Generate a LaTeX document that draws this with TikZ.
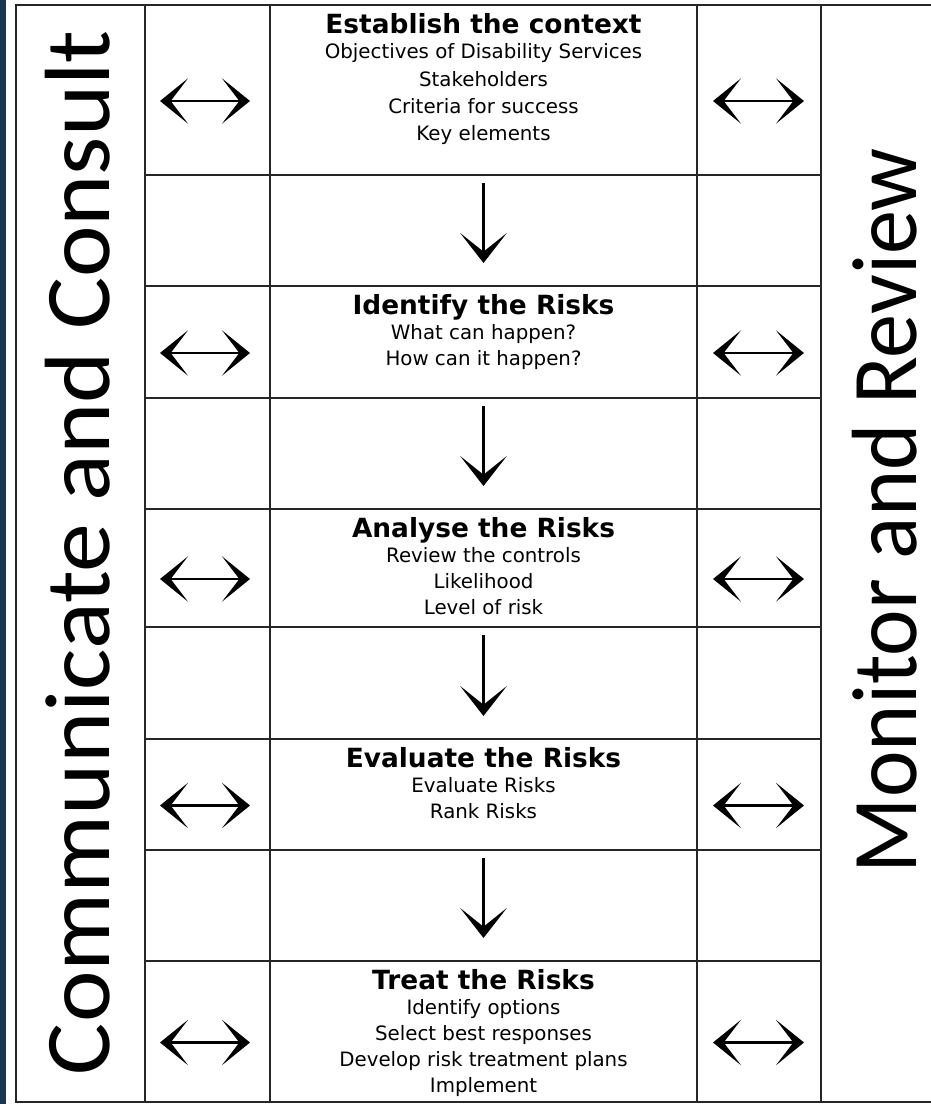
\documentclass[tikz,border=0pt]{standalone}
\usepackage{fontspec}
\setmainfont{DejaVu Sans}
\newfontfamily\bandfont{Carlito}
\usetikzlibrary{arrows.meta,calc}

\definecolor{edgeblue}{RGB}{27,54,82}

\tikzset{every picture/.style={line width=0.75pt}}
\tikzset{
  cell/.style={draw=black!85, line width=1.1, inner sep=0pt, outer sep=0pt},
  gridline/.style={draw=black!85, line width=1.1},
  stagehead/.style={inner sep=0pt, font=\bfseries\fontsize{19.8}{24}\selectfont},
  stagebody/.style={inner sep=0pt, align=center, font=\fontsize{14.85}{19.5}\selectfont},
  sidelabel/.style={inner sep=0pt, rotate=90, font=\bandfont\fontsize{69.5}{75}\selectfont},
  twoway/.style={line width=2.2, {Stealth[length=21pt,width=34pt,inset=13pt,line width=1.2pt]}-{Stealth[length=21pt,width=34pt,inset=13pt,line width=1.2pt]}},
  oneway/.style={line width=2.2, -{Stealth[length=22.5pt,width=35pt,inset=14pt,line width=1.2pt]}}
}

\begin{document}
\begin{tikzpicture}[x=0.75pt,y=0.75pt,yscale=-1,xscale=1]
	\useasboundingbox (0,0) rectangle (931,1104);
	\fill[white] (0,0) rectangle (931,1104);
	%left band
	\fill[edgeblue] (0,0) rectangle (6,1104);

	%Outer columns
	\node[cell, minimum width=96.75pt, minimum height=822.75pt] (lcol) at (80.5,553.5) {};
	\node[inner sep=0pt, outer sep=0pt, minimum width=82.5pt, minimum height=822.75pt] (rcol) at (876,553.5) {};
	\draw[gridline] (rcol.north west) -- (rcol.north east);
	\draw[gridline] (rcol.south west) -- (rcol.south east);

	%Rows of cells
	\foreach \r/\t/\b in {1/5/175,2/175/286,3/286/398,4/398/509,5/509/627,6/627/739,7/739/850,8/850/961,9/961/1102}{
		\pgfmathsetmacro\hh{0.75*(\b-\t)}
		\pgfmathsetmacro\mm{(\t+\b)/2}
		\node[cell, minimum width=93.75pt, minimum height=\hh pt] (la\r) at (207.5,\mm) {};
		\node[cell, minimum width=320.25pt, minimum height=\hh pt] (c\r) at (483.5,\mm) {};
		\node[cell, minimum width=93pt, minimum height=\hh pt] (ra\r) at (759,\mm) {};
	}

	% Text Node
	\node[sidelabel, anchor=base] (comm) at (109,552.5) {\resizebox{783.75pt}{\height}{Communicate and Consult}};
	% Text Node
	\node[sidelabel, anchor=base] (moni) at (916,510.5) {\resizebox{543.75pt}{\height}{Monitor and Review}};

	% Text Node
	\node[stagehead, anchor=base] (h1) at ($(c1.north)+(0,28)$) {Establish the context};
	\node[stagebody, anchor=north, font=\fontsize{14.85}{20.6}\selectfont] (b1) at ($(h1.base)+(0,10)$) {Objectives of Disability Services\\Stakeholders\\Criteria for success\\Key elements};
	% Text Node
	\node[stagehead, anchor=base] (h3) at ($(c3.north)+(0,28)$) {Identify the Risks};
	\node[stagebody, anchor=north] (b3) at ($(h3.base)+(0,10)$) {What can happen?\\How can it happen?};
	% Text Node
	\node[stagehead, anchor=base] (h5) at ($(c5.north)+(0,28)$) {Analyse the Risks};
	\node[stagebody, anchor=north] (b5) at ($(h5.base)+(0,10)$) {Review the controls\\Likelihood\\Level of risk};
	% Text Node
	\node[stagehead, anchor=base] (h7) at ($(c7.north)+(0,28)$) {Evaluate the Risks};
	\node[stagebody, anchor=north] (b7) at ($(h7.base)+(0,10)$) {Evaluate Risks\\Rank Risks};
	% Text Node
	\node[stagehead, anchor=base] (h9) at ($(c9.north)+(0,28)$) {Treat the Risks};
	\node[stagebody, anchor=north] (b9) at ($(h9.base)+(0,10)$) {Identify options\\Select best responses\\Develop risk treatment plans\\Implement};

	% Connection
	\foreach \a/\b in {1/3,3/5,5/7,7/9}
		\draw[oneway, shorten <=6pt, shorten >=17.25pt] (c\a.south) -- (c\b.north);
	% Connection
	\foreach \r in {1,3,5,7,9}{
		\draw[twoway] ($(la\r.west)+(15,11)$) -- ($(la\r.east)+(-20,11)$);
		\draw[twoway] ($(ra\r.west)+(16,11)$) -- ($(ra\r.east)+(-17,11)$);
	}

\end{tikzpicture}
\end{document}
